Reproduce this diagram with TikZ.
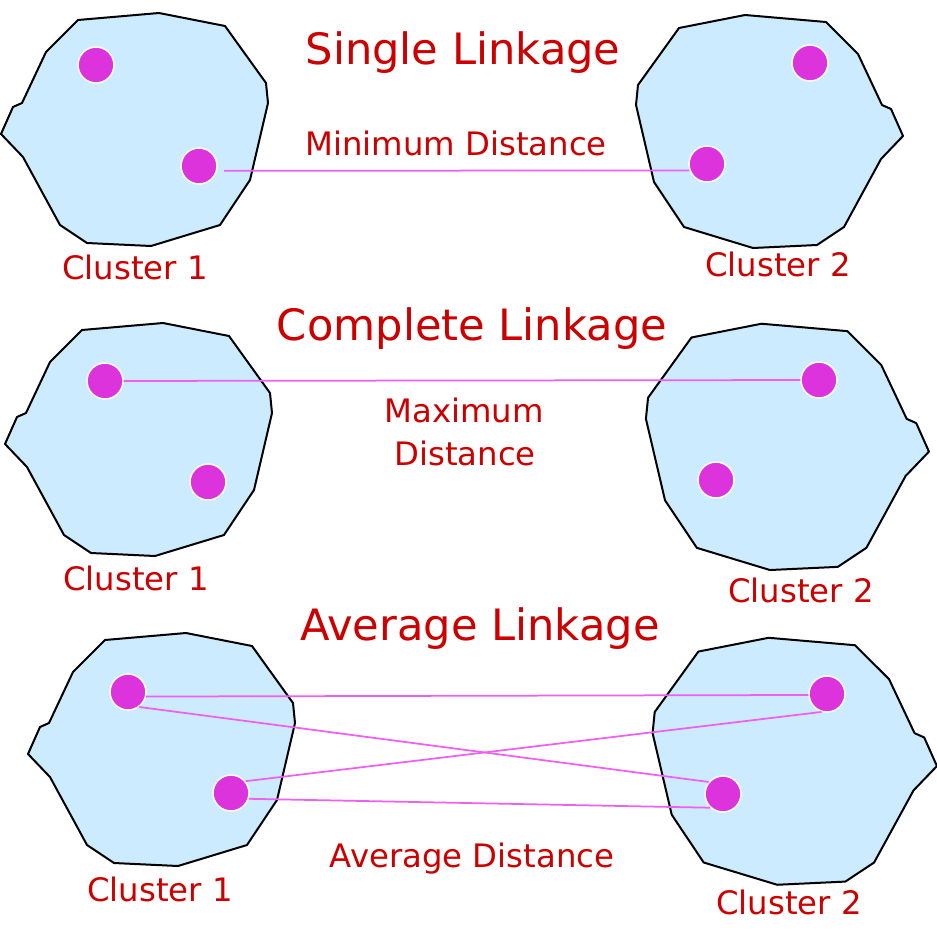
\documentclass[tikz,border=0pt]{standalone}
\usepackage{fontspec}
\setmainfont{DejaVu Sans}
\usepackage{tikz}

\definecolor{blobblue}{HTML}{CCEBFF}
\definecolor{dotpink}{HTML}{DD33DD}
\definecolor{linkpink}{HTML}{F060F0}
\definecolor{labelred}{HTML}{CC0000}

% outline of one cluster, in pixel units
\newcommand{\blobpath}{(78,20) -- (159,13) -- (225,26) -- (266,83) -- (268,103) -- (250,180) -- (220,225) -- (151,246) -- (87,243) -- (60,225) -- (23,157) -- (1,134) -- (13,107) -- (22,103) -- (46,52) -- cycle}

\tikzset{
    clusterblob/.style={draw=black, fill=blobblue, line width=0.04cm, line join=round},
    datapoint/.style={circle, fill=dotpink, draw=white, line width=0.03cm, minimum size=0.72cm, inner sep=0pt},
    linkline/.style={draw=linkpink, line width=0.035cm},
    titletext/.style={text=labelred, font=\fontsize{24.6}{29}\selectfont, anchor=base, inner sep=0pt},
    labeltext/.style={text=labelred, font=\fontsize{18.4}{22}\selectfont, anchor=base, inner sep=0pt}
}

\begin{document}
\begin{tikzpicture}[x=0.02cm, y=-0.02cm]
            \useasboundingbox (0,0) rectangle (936,946);

            % single linkage
            \draw[clusterblob] \blobpath;
            \begin{scope}[shift={(904,2)}, xscale=-1]
                \draw[clusterblob] \blobpath;
            \end{scope}

            \node[datapoint] (s1a) at (96,65) {};
            \node[datapoint] (s1b) at (199,166) {};
            \node[datapoint] (s2a) at (810,63) {};
            \node[datapoint] (s2b) at (707,164) {};

            \draw[linkline, shorten <=0.14cm] (s1b.-15) -- (s2b.200);

            \node[titletext] (single) at (463,65) {Single Linkage};
            \node[labeltext] (mindist) at (456,155) {Minimum Distance};
            \node[labeltext] (s1name) at (135,279) {Cluster 1};
            \node[labeltext] (s2name) at (778,276) {Cluster 2};

            % complete linkage
            \begin{scope}[shift={(4,310)}]
                \draw[clusterblob] \blobpath;
            \end{scope}
            \begin{scope}[shift={(930,310)}, xscale=-1.06, yscale=1.057]
                \draw[clusterblob] \blobpath;
            \end{scope}

            \node[datapoint] (c1a) at (105,381) {};
            \node[datapoint] (c1b) at (208,482) {};
            \node[datapoint] (c2a) at (819,380) {};
            \node[datapoint] (c2b) at (716,480) {};

            \draw[linkline] (c1a) -- (c2a);

            \node[titletext] (complete) at (472,340) {Complete Linkage};
            \node[labeltext] (maxdist) at (464,422) {Maximum};
            \node[labeltext] (maxdist2) at (465,465) {Distance};
            \node[labeltext] (c1name) at (136,590) {Cluster 1};
            \node[labeltext] (c2name) at (801,602) {Cluster 2};

            % average linkage
            \begin{scope}[shift={(27,620)}]
                \draw[clusterblob] \blobpath;
            \end{scope}
            \begin{scope}[shift={(938,624)}, xscale=-1.065, yscale=1.06]
                \draw[clusterblob] \blobpath;
            \end{scope}

            \node[datapoint] (a1a) at (128,692) {};
            \node[datapoint] (a1b) at (231,793) {};
            \node[datapoint] (a2a) at (827,694) {};
            \node[datapoint] (a2b) at (723,794) {};

            \draw[linkline] (a1a.-14) -- (a2a.183);
            \draw[linkline] (a1a.-53) -- (a2b.140);
            \draw[linkline] (a1b.39) -- (a2a.-107);
            \draw[linkline] (a1b.-18) -- (a2b.227);

            \node[titletext] (average) at (480,640) {Average Linkage};
            \node[labeltext] (avgdist) at (472,867) {Average Distance};
            \node[labeltext] (a1name) at (160,901) {Cluster 1};
            \node[labeltext] (a2name) at (789,914) {Cluster 2};
        \end{tikzpicture}
\end{document}
